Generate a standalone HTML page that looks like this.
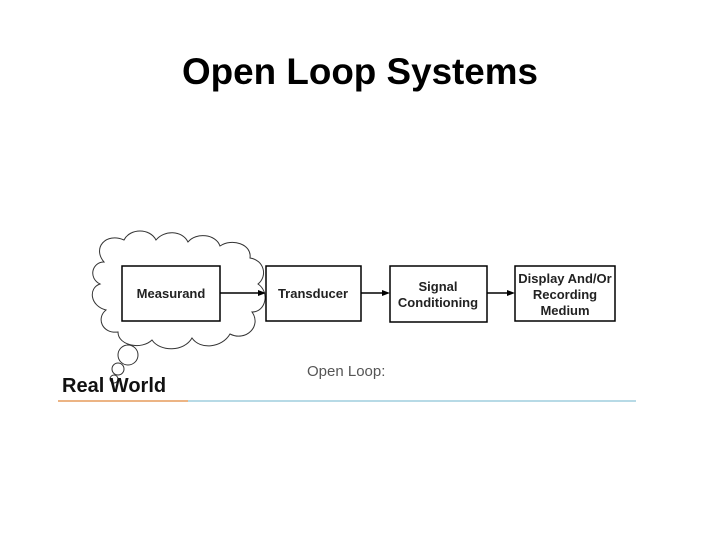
<!DOCTYPE html>
<html><head><meta charset="utf-8"><style>html,body{margin:0;padding:0;background:#fff}svg{display:block}</style></head>
<body>
<svg width="720" height="540" viewBox="0 0 720 540" xmlns="http://www.w3.org/2000/svg" font-family="Liberation Sans, Arial, sans-serif">
<text x="182" y="84" font-size="37" font-weight="bold" textLength="356" lengthAdjust="spacingAndGlyphs">Open Loop Systems</text>
<g fill="#fff" stroke="#333" stroke-width="1">
<path d="M104,262 C92,248 106,232 124,240 C130,228 150,228 156,240 C164,230 182,230 188,242 C196,232 216,234 220,246 C232,238 252,244 250,258 C264,260 268,276 258,284 C270,292 266,312 252,312 C262,326 246,342 230,334 C222,348 200,350 192,338 C184,352 160,352 152,340 C142,350 118,346 118,332 C102,334 96,318 106,310 C90,306 88,288 100,284 C88,278 92,262 104,262 Z"/>
<circle cx="128" cy="355" r="10"/>
<circle cx="118" cy="369" r="6"/>
<circle cx="114" cy="379" r="4"/>
</g>
<g fill="#fff" stroke="#000" stroke-width="1.5">
<rect x="122" y="266" width="98" height="55"/>
<rect x="266" y="266" width="95" height="55"/>
<rect x="390" y="266" width="97" height="56"/>
<rect x="515" y="266" width="100" height="55"/>
</g>
<g stroke="#000" stroke-width="1.5">
<line x1="220" y1="293" x2="260" y2="293"/>
<line x1="361" y1="293" x2="384" y2="293"/>
<line x1="487" y1="293" x2="509" y2="293"/>
</g>
<g fill="#000">
<path d="M266,293 L258,290 L258,296 Z"/>
<path d="M390,293 L382,290 L382,296 Z"/>
<path d="M515,293 L507,290 L507,296 Z"/>
</g>
<g font-size="13" font-weight="bold" fill="#222" text-anchor="middle">
<text x="171" y="298">Measurand</text>
<text x="313" y="298">Transducer</text>
<text x="438" y="291">Signal</text>
<text x="438" y="307">Conditioning</text>
<text x="565" y="283">Display And/Or</text>
<text x="565" y="299">Recording</text>
<text x="565" y="315">Medium</text>
</g>
<text x="307" y="376" font-size="15" fill="#555">Open Loop:</text>
<text x="62" y="392" font-size="20" font-weight="bold" fill="#111">Real World</text>
<line x1="58" y1="401" x2="188" y2="401" stroke="#e0883a" stroke-width="1.2"/>
<line x1="188" y1="401" x2="636" y2="401" stroke="#8cc4d8" stroke-width="1.2"/>
</svg>
</body></html>
